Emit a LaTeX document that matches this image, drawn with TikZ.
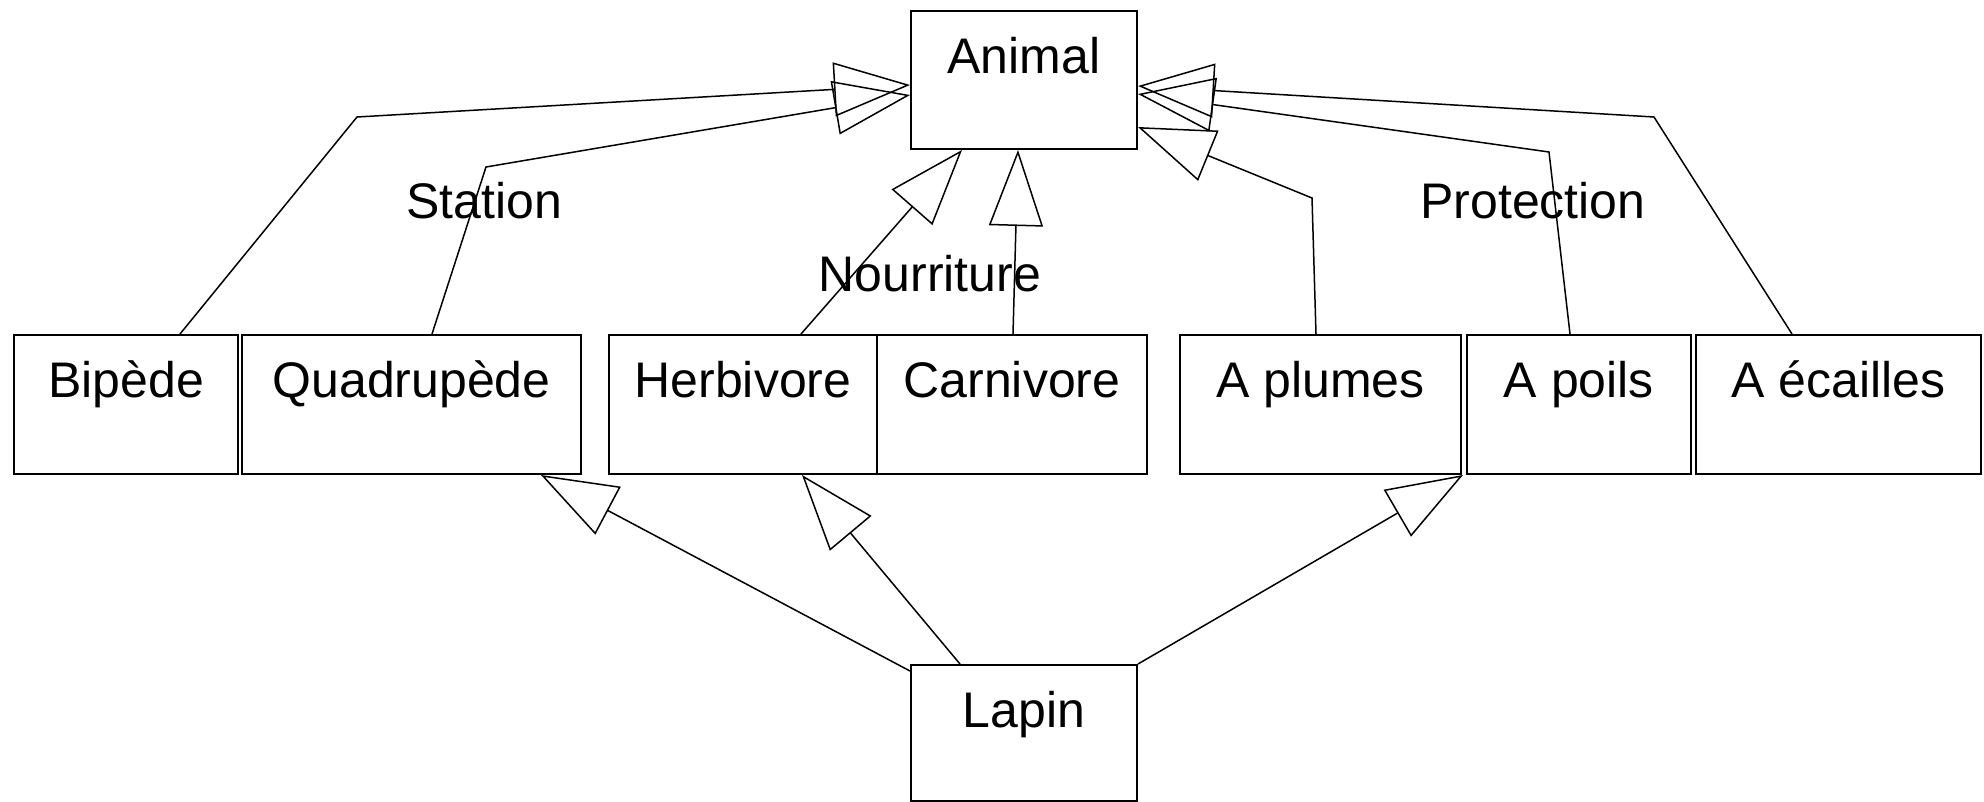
\documentclass[tikz,border=0pt]{standalone}
\usepackage{fontspec}
\setmainfont{Liberation Sans}
\usetikzlibrary{arrows.meta}
\begin{document}
\begin{tikzpicture}[x=1pt,y=-1pt,
  cls/.style={draw, line width=2pt, inner sep=0pt, anchor=north west, text height=62pt, font=\fontsize{50}{60}\selectfont},
  lbl/.style={inner sep=0pt, anchor=base, font=\fontsize{50}{60}\selectfont},
  inh/.style={line width=1.5pt, -{Triangle[open, length=76pt, width=54pt]}},
]
\useasboundingbox (0,0) rectangle (1984,801);
% classes
\node[cls, minimum width=226pt, text depth=76pt] (animal) at (910,10) {Animal};
\node[cls, minimum width=224pt, text depth=77pt] (bipede) at (13,334) {Bipède};
\node[cls, minimum width=339pt, text depth=77pt] (quadrupede) at (241,334) {Quadrupède};
\node[cls, minimum width=268pt, text depth=77pt] (herbivore) at (608,334) {Herbivore};
\node[cls, minimum width=270pt, text depth=77pt] (carnivore) at (876,334) {Carnivore};
\node[cls, minimum width=281pt, text depth=77pt] (aplumes) at (1179,334) {A plumes};
\node[cls, minimum width=224pt, text depth=77pt] (apoils) at (1466,334) {A poils};
\node[cls, minimum width=285pt, text depth=77pt] (aecailles) at (1695,334) {A écailles};
\node[cls, minimum width=226pt, text depth=74pt] (lapin) at (910,664) {Lapin};
% labels
\node[lbl] (station) at (484,218) {Station};
\node[lbl] (nourriture) at (930,291) {Nourriture};
\node[lbl] (protection) at (1533,218) {Protection};
% bend points
\coordinate (bb) at (357,117);
\coordinate (bq) at (486,167);
\coordinate (bpl) at (1312,198);
\coordinate (bpo) at (1549,152);
\coordinate (be) at (1654,117);
% inheritance to Animal
\draw[inh] ([xshift=167pt]bipede.north west) -- (bb) -- ([yshift=-75pt]animal.north west);
\draw[inh] ([xshift=191pt]quadrupede.north west) -- (bq) -- ([yshift=-85pt]animal.north west);
\draw[inh] ([xshift=193pt]herbivore.north west) -- ([xshift=52pt]animal.south west);
\draw[inh] ([xshift=137pt]carnivore.north west) -- ([xshift=108pt]animal.south west);
\draw[inh] ([xshift=137pt]aplumes.north west) -- (bpl) -- ([yshift=-117pt]animal.north east);
\draw[inh] ([xshift=104pt]apoils.north west) -- (bpo) -- ([yshift=-84pt]animal.north east);
\draw[inh] ([xshift=97pt]aecailles.north west) -- (be) -- ([yshift=-76pt]animal.north east);
% Lapin inheritance
\draw[inh] ([yshift=-7pt]lapin.north west) -- ([xshift=300pt]quadrupede.south west);
\draw[inh] ([xshift=50pt]lapin.north west) -- ([xshift=194pt]herbivore.south west);
\draw[inh] (lapin.north east) -- ([xshift=-3pt]apoils.south west);
\end{tikzpicture}
\end{document}
